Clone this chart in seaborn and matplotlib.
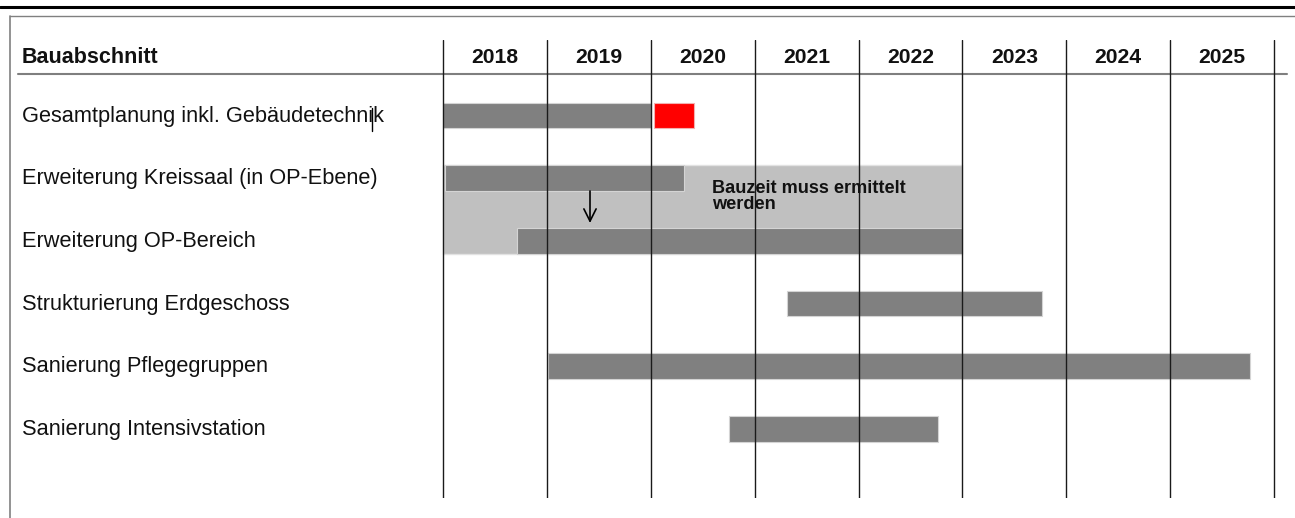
import numpy as np
import matplotlib
matplotlib.use("Agg")
import matplotlib.pyplot as plt
import matplotlib.transforms as mtransforms
from matplotlib.lines import Line2D
import seaborn as sns

# ── Data ──────────────────────────────────────────────────────────────────────
tasks = [
    "Gesamtplanung inkl. Gebäudetechnik",
    "Erweiterung Kreissaal (in OP-Ebene)",
    "Erweiterung OP-Bereich",
    "Strukturierung Erdgeschoss",
    "Sanierung Pflegegruppen",
    "Sanierung Intensivstation",
]
starts = [2018.0, 2018.02, 2018.71, 2021.31, 2019.01, 2020.75]
ends   = [2020.0, 2020.32, 2023.0, 2023.77, 2025.77, 2022.77]

delay_task  = 0            # red extension on Gesamtplanung
delay_start = 2020.03
delay_end   = 2020.42

pending_rows  = [1, 2]     # grey box "Bauzeit muss ermittelt werden"
pending_start = 2018.0
pending_end   = 2023.0
pending_note  = "Bauzeit muss ermittelt\nwerden"

years = [2018, 2019, 2020, 2021, 2022, 2023, 2024, 2025]
header_label = "Bauabschnitt"

# ── Layout (pixels of a 1295x518 canvas) ──────────────────────────────────────
W, H     = 1295, 518
PX_YEAR  = 103.875         # pixel width of one year column
X_2018   = 443             # pixel x of the 2018 line
ROW0     = 115.5           # pixel y of first row centre
ROW_STEP = 62.7            # pixel distance between rows


def row_of(py):
    return (py - ROW0) / ROW_STEP


sns.set_theme(style="white")
plt.rcParams["font.family"] = ["Liberation Sans", "DejaVu Sans"]

fig = plt.figure(figsize=(W / 100, H / 100), dpi=100)
ax_l, ax_r, ax_t, ax_b = 440, 1278, 40, 498
ax = fig.add_axes([ax_l / W, 1 - ax_b / H, (ax_r - ax_l) / W, (ax_b - ax_t) / H])
ax.set_xlim(2018 + (ax_l - X_2018) / PX_YEAR, 2018 + (ax_r - X_2018) / PX_YEAR)
ax.set_ylim(row_of(ax_b), row_of(ax_t))

# year grid drawn on top of the bars
ax.set_xticks(years + [years[-1] + 1])
ax.set_yticks([])
ax.tick_params(length=0, labelbottom=False)
ax.xaxis.grid(True, color="#1a1a1a", lw=1.0)
ax.set_axisbelow(False)
sns.despine(ax=ax, left=True, bottom=True, right=True, top=True)

# ── Bars ──────────────────────────────────────────────────────────────────────
ax.barh(np.mean(pending_rows), pending_end - pending_start, left=pending_start,
        height=1.42, color="#c0c0c0", edgecolor="#e2e2e2", lw=1, zorder=1)

rows = np.arange(len(tasks))
ax.barh(rows, np.array(ends) - np.array(starts), left=starts, height=0.41,
        color="#808080", edgecolor="#d4d4d4", lw=0.8, zorder=2)
ax.barh(delay_task, delay_end - delay_start, left=delay_start, height=0.41,
        color="#ff0000", edgecolor="#f2b0b0", lw=0.8, zorder=2)

ax.text(2018 + (712 - X_2018) / PX_YEAR, row_of(180), pending_note,
        fontsize=13.1, fontweight="bold", va="top", ha="left",
        linespacing=0.95, color="#111111", zorder=3)
arrow_x = 2018 + (590 - X_2018) / PX_YEAR
ax.annotate("", xy=(arrow_x, row_of(223)), xytext=(arrow_x, row_of(191)),
            arrowprops=dict(arrowstyle="->", color="black", lw=1.2,
                            mutation_scale=22, shrinkA=0, shrinkB=0))

# ── Text columns ──────────────────────────────────────────────────────────────
trans = mtransforms.blended_transform_factory(fig.transFigure, ax.transData)
header_y = row_of(63)
ax.text(22 / W, header_y, header_label, transform=trans, fontsize=15.5,
        fontweight="bold", va="baseline", color="#111111")
for yr in years:
    ax.text(yr + 0.5, header_y, str(yr), ha="center", va="baseline",
            fontsize=15.2, fontweight="bold", color="#111111")
for i, name in enumerate(tasks):
    ax.text(22 / W, i + row_of(121.5), name, transform=trans, fontsize=15.7,
            va="baseline", color="#111111")

ax.plot([18 / W, 1287 / W], [row_of(74)] * 2, transform=trans,
        color="#7f7f7f", lw=1.5, clip_on=False)

# ── Page frame ────────────────────────────────────────────────────────────────
fig.add_artist(Line2D([0, 1], [1 - 6.5 / H] * 2, color="black", lw=2.2))
fig.add_artist(Line2D([10 / W, 1], [1 - 16 / H] * 2, color="#808080", lw=1.0))
fig.add_artist(Line2D([10 / W] * 2, [0, 1 - 16 / H], color="#808080", lw=1.2))
# text cursor left in the source document
fig.add_artist(Line2D([371.5 / W] * 2, [1 - 108 / H, 1 - 131 / H], color="black", lw=1.0))

fig.savefig("out.png", dpi=100)
